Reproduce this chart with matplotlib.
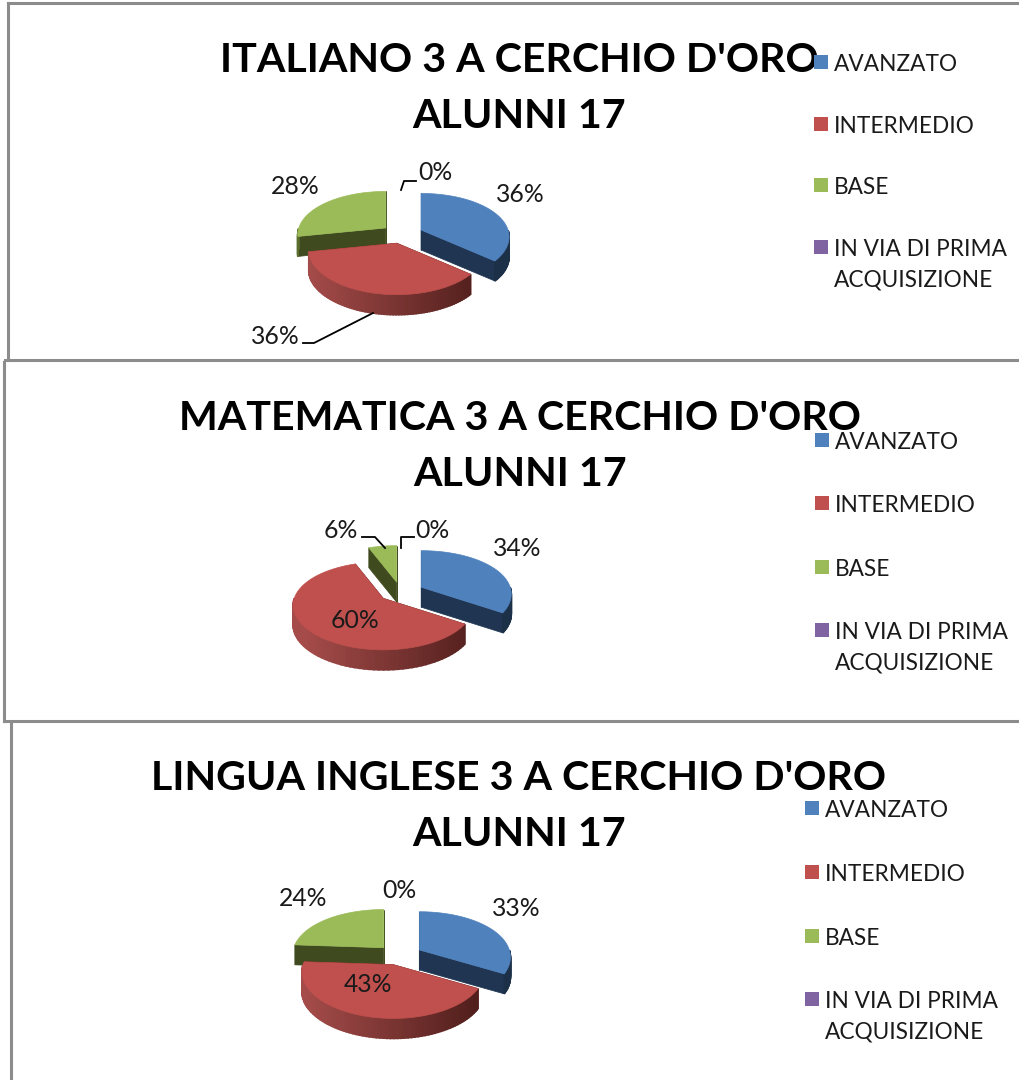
import numpy as np
import matplotlib

matplotlib.use("Agg")
import matplotlib.pyplot as plt

categories = ["AVANZATO", "INTERMEDIO", "BASE", "IN VIA DI PRIMA\nACQUISIZIONE"]
top_colors = ["#4f81bd", "#bf504d", "#9bbb59", "#8064a2"]
wall_colors = ["#1f3552", "#4a1a18", "#3f4a1f", "#3a2c4c"]
rim_left = ["#2b4a73", "#a54c4a", "#5a6e2d", "#4d3c63"]
rim_right = ["#1c3048", "#481a17", "#3a451d", "#3a2c4c"]

titles = [
    "ITALIANO 3 A CERCHIO D'ORO\nALUNNI 17",
    "MATEMATICA 3 A CERCHIO D'ORO\nALUNNI 17",
    "LINGUA INGLESE 3 A CERCHIO D'ORO\nALUNNI 17",
]
italiano = [36, 36, 28, 0]
matematica = [34, 60, 6, 0]
inglese = [33, 43, 24, 0]


def hex_rgb(color):
    return np.array(matplotlib.colors.to_rgb(color))


def project(cx, cy, angle, radius_x, radius_y):
    # clockwise from 12 o'clock, front of the pie a bit bigger than the back
    x = cx + radius_x * np.sin(angle) * (1 - 0.16 * np.cos(angle))
    y = cy - radius_y * np.cos(angle) * (1 - 0.17 * np.cos(angle))
    return x, y


def draw_pie(axis, values, cx, cy, radius_x=87, radius_y=44, explode_x=21, explode_y=9.5, depth=20):
    shares = np.array(values, dtype=float) / sum(values)
    stops = np.concatenate([[0], np.cumsum(shares)]) * 2 * np.pi
    mids = (stops[:-1] + stops[1:]) / 2

    # back slices first so the front ones cover them
    for index in np.argsort(-np.cos(mids)):
        if values[index] == 0:
            continue
        apex_x = cx + explode_x * np.sin(mids[index])
        apex_y = cy - explode_y * np.cos(mids[index])
        angles = np.linspace(stops[index], stops[index + 1], 80)
        arc_x, arc_y = project(apex_x, apex_y, angles, radius_x, radius_y)

        for end in (0, -1):
            axis.fill(
                [apex_x, arc_x[end], arc_x[end], apex_x],
                [apex_y, arc_y[end], arc_y[end] + depth, apex_y + depth],
                color=wall_colors[index],
                linewidth=0.5,
                zorder=2,
            )

        for step in range(len(angles) - 1):
            if np.cos((angles[step] + angles[step + 1]) / 2) > 0:
                continue
            mix = np.clip((arc_x[step] - cx + 95) / 190, 0, 1)
            shade = (1 - mix) * hex_rgb(rim_left[index]) + mix * hex_rgb(rim_right[index])
            axis.fill(
                [arc_x[step], arc_x[step + 1], arc_x[step + 1], arc_x[step]],
                [arc_y[step], arc_y[step + 1], arc_y[step + 1] + depth, arc_y[step] + depth],
                color=shade,
                linewidth=1.2,
                zorder=2,
            )

        axis.fill(
            np.concatenate([[apex_x], arc_x]),
            np.concatenate([[apex_y], arc_y]),
            color=top_colors[index],
            linewidth=0.5,
            zorder=2,
        )


def draw_legend(axis, swatch_x, rows_y):
    for color, label, row_y in zip(top_colors, categories, rows_y):
        axis.scatter(swatch_x, row_y, marker="s", s=100, color=color, linewidths=0, zorder=4)
        axis.text(
            swatch_x + 13,
            row_y - 8,
            label,
            fontsize=16.3,
            color="#1a1a1a",
            va="top",
            ha="left",
            linespacing=1.55,
            zorder=5,
        )


def draw_label(axis, text, x, y):
    axis.text(x, y, text, fontsize=17.8, color="#1a1a1a", ha="center", va="center", zorder=5)


plt.rcParams["font.family"] = ["Lato", "DejaVu Sans"]

figure = plt.figure(figsize=(10.19, 10.8), dpi=100)
axis = figure.add_axes([0, 0, 1, 1])
axis.set_xlim(0, 1019)
axis.set_ylim(1080, 0)
axis.axis("off")

# panel frames
frame = dict(color="#8c8c8c", linewidth=2.2, zorder=1)
axis.plot([8, 8], [3, 360], **frame)
axis.plot([8, 1019], [3, 3], **frame)
axis.plot([5, 1019], [360, 360], **frame)
axis.plot([4, 4], [362, 721], **frame)
axis.plot([4, 1019], [721, 721], **frame)
axis.plot([11, 11], [723, 1080], **frame)

for title, center_x, title_y in zip(titles, [519, 520, 519], [60, 418, 778]):
    first, second = title.split("\n")
    axis.text(center_x, title_y, first, fontsize=29.6, fontweight="bold", color="black",
              ha="center", va="center", zorder=3)
    axis.text(center_x, title_y + 56, second, fontsize=29.6, fontweight="bold", color="black",
              ha="center", va="center", zorder=3)

draw_pie(axis, italiano, 402, 234)
draw_pie(axis, matematica, 401, 592, radius_x=89, explode_x=23, explode_y=10)
draw_pie(axis, inglese, 399.5, 955, radius_x=90, radius_y=46, explode_x=23, explode_y=10)

draw_legend(axis, 821, [62, 124, 185, 247])
draw_legend(axis, 822, [440, 503, 567, 630])
draw_legend(axis, 812, [808, 872, 936, 999])

draw_label(axis, f"{italiano[0]}%", 520, 195)
draw_label(axis, f"{italiano[1]}%", 275, 337)
draw_label(axis, f"{italiano[2]}%", 295, 186)
draw_label(axis, f"{italiano[3]}%", 435, 173)
draw_label(axis, f"{matematica[0]}%", 517, 549)
draw_label(axis, f"{matematica[1]}%", 355, 620)
draw_label(axis, f"{matematica[2]}%", 341, 531)
draw_label(axis, f"{matematica[3]}%", 432, 531)
draw_label(axis, f"{inglese[0]}%", 516, 909)
draw_label(axis, f"{inglese[1]}%", 368, 985)
draw_label(axis, f"{inglese[2]}%", 303, 899)
draw_label(axis, f"{inglese[3]}%", 399, 891)

# leader lines
leader = dict(color="black", linewidth=1.3, zorder=5)
axis.plot([401, 404, 416], [190, 181, 181], **leader)
axis.plot([303, 314, 373], [343, 343, 313], **leader)
axis.plot([401, 401, 414], [548, 537, 537], **leader)
axis.plot([362, 375, 385], [537, 537, 548], **leader)

figure.savefig("out.png", dpi=100, facecolor="white")
plt.close(figure)
